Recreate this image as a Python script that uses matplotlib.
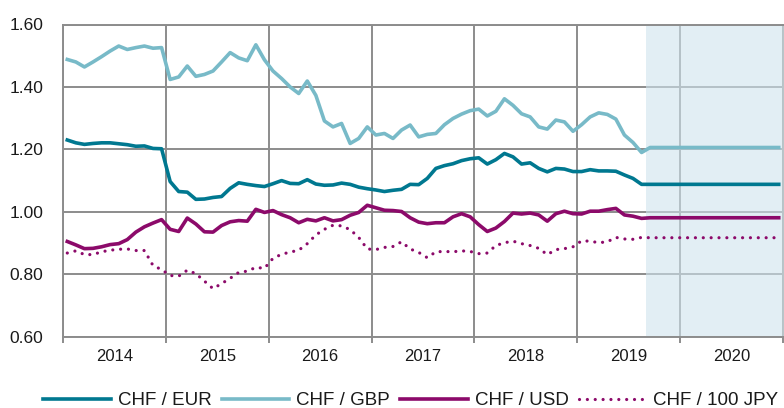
import matplotlib
matplotlib.use("Agg")
import matplotlib.pyplot as plt
import numpy as np

plt.rcParams['font.family'] = ['Liberation Sans', 'DejaVu Sans']

# Monthly series, Jan 2014 .. Dec 2020 (forecast from Sep 2019 onward)
chf_eur = [1.230, 1.221, 1.216, 1.219, 1.221, 1.221, 1.218, 1.215, 1.210, 1.211, 1.203, 1.202,
           1.097, 1.065, 1.063, 1.040, 1.041, 1.046, 1.049, 1.075, 1.093, 1.088, 1.084,
           1.081, 1.090, 1.100, 1.091, 1.090, 1.103, 1.089, 1.085, 1.086, 1.092, 1.088, 1.079,
           1.074, 1.070, 1.065, 1.069, 1.072, 1.088, 1.087, 1.107, 1.139,
           1.148, 1.154, 1.164, 1.170, 1.173, 1.153, 1.167, 1.187, 1.176, 1.153, 1.157, 1.139,
           1.128, 1.139, 1.137, 1.129, 1.129, 1.135, 1.131, 1.131, 1.130, 1.118, 1.107, 1.088,
           1.088, 1.088, 1.088, 1.088, 1.088, 1.088, 1.088, 1.088,
           1.088, 1.088, 1.088, 1.088, 1.088, 1.088, 1.088, 1.088]
chf_gbp = [1.488, 1.480, 1.464, 1.480, 1.497, 1.515, 1.531, 1.520, 1.526, 1.531, 1.524, 1.526,
           1.424, 1.432, 1.467, 1.434, 1.440, 1.451, 1.480, 1.510, 1.493, 1.484, 1.535,
           1.487, 1.451, 1.427, 1.400, 1.379, 1.419, 1.373, 1.291, 1.272, 1.283, 1.219, 1.235,
           1.272, 1.246, 1.251, 1.235, 1.262, 1.278, 1.240, 1.248, 1.251,
           1.279, 1.299, 1.313, 1.324, 1.329, 1.307, 1.322, 1.362, 1.341, 1.314, 1.304, 1.272,
           1.265, 1.294, 1.288, 1.258, 1.279, 1.304, 1.317, 1.312, 1.297, 1.246, 1.222, 1.190,
           1.206, 1.206, 1.206, 1.206, 1.206, 1.206, 1.206, 1.206,
           1.206, 1.206, 1.206, 1.206, 1.206, 1.206, 1.206, 1.206]
chf_usd = [0.905, 0.894, 0.882, 0.883, 0.888, 0.895, 0.898, 0.911, 0.935, 0.952, 0.964, 0.975,
           0.944, 0.937, 0.980, 0.961, 0.936, 0.935, 0.956, 0.968, 0.972, 0.970, 1.008,
           0.998, 1.004, 0.991, 0.981, 0.965, 0.976, 0.971, 0.981, 0.971, 0.975, 0.989, 0.998,
           1.021, 1.013, 1.005, 1.004, 1.001, 0.981, 0.967, 0.962, 0.965,
           0.965, 0.984, 0.994, 0.984, 0.959, 0.937, 0.948, 0.969, 0.996, 0.993, 0.996, 0.990,
           0.970, 0.994, 1.002, 0.994, 0.993, 1.002, 1.002, 1.007, 1.011, 0.990, 0.986, 0.979,
           0.981, 0.981, 0.981, 0.981, 0.981, 0.981, 0.981, 0.981,
           0.981, 0.981, 0.981, 0.981, 0.981, 0.981, 0.981, 0.981]
chf_jpy = [0.868, 0.875, 0.863, 0.863, 0.872, 0.877, 0.880, 0.881, 0.876, 0.876, 0.828, 0.815,
           0.796, 0.794, 0.813, 0.802, 0.778, 0.754, 0.770, 0.787, 0.806, 0.810, 0.822,
           0.819, 0.851, 0.864, 0.871, 0.877, 0.898, 0.926, 0.944, 0.957, 0.955, 0.943, 0.918,
           0.881, 0.879, 0.886, 0.889, 0.904, 0.881, 0.870, 0.853, 0.872,
           0.873, 0.872, 0.875, 0.873, 0.866, 0.868, 0.892, 0.901, 0.906, 0.898, 0.892, 0.883,
           0.863, 0.879, 0.882, 0.888, 0.907, 0.906, 0.901, 0.904, 0.918, 0.913, 0.912, 0.918,
           0.917, 0.917, 0.917, 0.917, 0.917, 0.917, 0.917, 0.917,
           0.917, 0.917, 0.917, 0.917, 0.917, 0.917, 0.917, 0.917]

years = [2014, 2015, 2016, 2017, 2018, 2019, 2020]
year_labels = ['2014', '2015', '2016', '2017', '2018', '2019', '2020']
y_ticks = [0.60, 0.80, 1.00, 1.20, 1.40, 1.60]
forecast_start = (2019, 9)
series_labels = ['CHF / EUR', 'CHF / GBP', 'CHF / USD', 'CHF / 100 JPY']

# time axis: mid-month positions
n = len(chf_eur)
t = np.array([years[0] + (i + 0.5) / 12 for i in range(n)])

c_eur = '#007890'
c_gbp = '#78bac8'
c_usd = '#8c0a6a'
grid_c = '#8c8c8c'

fig = plt.figure(figsize=(7.84, 4.08), dpi=100)
ax = fig.add_axes([63 / 784, 1 - 336.7 / 408, 720 / 784, (336.7 - 24.5) / 408])

x0 = years[0]
x1 = years[-1] + 1
fs = forecast_start[0] + (forecast_start[1] - 1) / 12
ax.axvspan(fs, x1, facecolor=(208 / 255, 227 / 255, 237 / 255), alpha=0.6, lw=0, zorder=1.5)

lw = 2.6
ax.plot(t, chf_eur, color=c_eur, lw=lw, zorder=3, label=series_labels[0], solid_joinstyle='round')
ax.plot(t, chf_gbp, color=c_gbp, lw=lw, zorder=3, label=series_labels[1], solid_joinstyle='round')
ax.plot(t, chf_usd, color=c_usd, lw=lw, zorder=3, label=series_labels[2], solid_joinstyle='round')
ax.plot(t, chf_jpy, color=c_usd, lw=2.3, zorder=3, label=series_labels[3],
        linestyle=(0, (0.01, 2.45)), dash_capstyle='round')

ax.set_xlim(x0, x1)
ax.set_ylim(y_ticks[0], y_ticks[-1])
ax.set_yticks(y_ticks)
ax.set_yticklabels([f'{v:.2f}' for v in y_ticks])
ax.set_xticks(list(years) + [x1])
ax.set_xticklabels([])
ax.set_xticks([y + 0.5 for y in years], minor=True)
ax.set_xticklabels(year_labels, minor=True)

ax.set_axisbelow(True)
ax.grid(True, which='major', color=grid_c, lw=1.4, zorder=0.5)
ax.tick_params(axis='x', which='major', length=4, width=1.4, color=grid_c, direction='out')
ax.tick_params(axis='x', which='minor', length=0, pad=9, labelsize=12, labelcolor='#1a1a1a')
ax.tick_params(axis='y', length=0, pad=14, labelsize=12.5, labelcolor='#1a1a1a')
for s in ax.spines.values():
    s.set_color(grid_c)
    s.set_linewidth(1.4)
ax.spines['right'].set_color('#b8c4c8')

handles, labels = ax.get_legend_handles_labels()
fig.legend(handles, labels, loc='lower center', bbox_to_anchor=(0.524, -0.045), ncol=4,
           frameon=False, fontsize=13.5, handlelength=3.6, handletextpad=0.37,
           columnspacing=0.55, labelcolor='#1a1a1a')

fig.savefig('out.png', dpi=100)
